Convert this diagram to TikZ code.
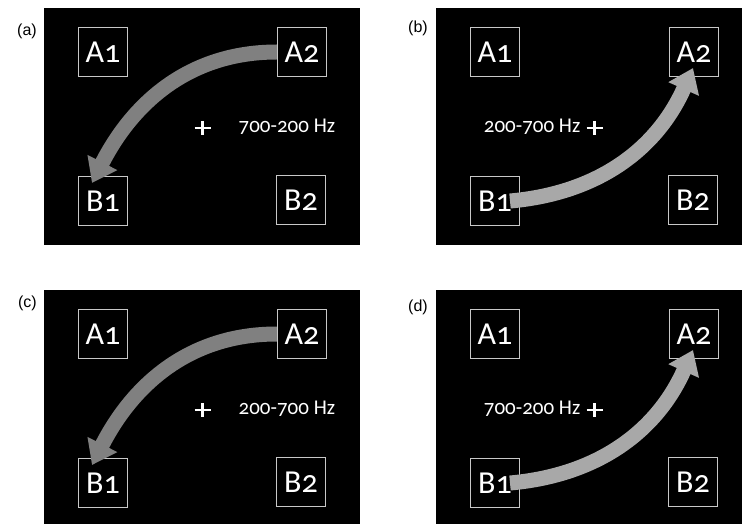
\documentclass[tikz,border=0pt]{standalone}
\usepackage{fontspec}
\setmainfont{Liberation Sans}
\newfontfamily\slidefont[Numbers=OldStyle]{Carlito}
\usepackage{xcolor}
\usepackage{tikz}
\definecolor{boxline}{HTML}{C8C8C8}
\definecolor{darkarrow}{HTML}{808080}
\definecolor{lightarrow}{HTML}{A8A8A8}
\tikzstyle{panel} = [fill=black, draw=none]
\tikzstyle{key} = [draw=boxline, line width=1.3pt, minimum size=49pt, inner sep=0pt, text=white, font=\slidefont\fontsize{32}{32}\selectfont]
\tikzstyle{hz} = [text=white, inner sep=0pt, font=\slidefont\fontsize{21}{21}\selectfont]
\tikzstyle{tag} = [anchor=east, inner sep=0pt, font=\fontsize{16}{16}\selectfont]
\tikzstyle{swing} = [line width=15pt, -{Triangle[width=32pt,length=23pt]}]
\usetikzlibrary{arrows.meta}

\begin{document}
\begin{tikzpicture}[x=1pt, y=-1pt]
  \useasboundingbox (0,0) rectangle (742,524);
  \foreach \p/\px/\py/\w/\h/\lx/\ly/\hz/\tx/\ta in {
      a/44/8/316/237/37/31/700-200/36/west,
      b/436/8/306/237/428/28/200-700/-14/east,
      c/44/290/316/234/37/303/200-700/36/west,
      d/436/290/306/234/428/307/700-200/-14/east}{
    \fill[panel] (\px,\py) rectangle (\px+\w,\py+\h);
    \node[tag] (L\p) at (\lx,\ly) {(\p)};
    \node[key] (A1\p) at (\px+59,\py+44) {A1};
    \node[key] (A2\p) at (\px+258,\py+44) {A2};
    \node[key] (B1\p) at (\px+59,\py+193) {B1};
    \node[key] (B2\p) at (\px+257,\py+192) {B2};
    \coordinate (X\p) at (\px+158.5,\py+120);
    \draw[white, line width=2.4pt] (X\p) ++(-8,0) -- ++(16,0) (X\p) ++(0,-7) -- ++(0,14);
    \node[hz, anchor=\ta] (T\p) at (\px+158.5+\tx,\py+119) {\hz\ Hz};
  }

  \draw[swing, draw=darkarrow] (A2a.west) to[out=180, in=63] ([shift={(-11,-18)}]B1a.center);
  \draw[swing, draw=darkarrow] (A2c.west) to[out=180, in=63] ([shift={(-11,-18)}]B1c.center);
  \draw[swing, draw=lightarrow] ([xshift=15pt]B1b.center) to[out=5, in=-114] ([shift={(-1,16)}]A2b.center);
  \draw[swing, draw=lightarrow] ([xshift=15pt]B1d.center) to[out=5, in=-114] ([shift={(-1,16)}]A2d.center);
\end{tikzpicture}
\end{document}
